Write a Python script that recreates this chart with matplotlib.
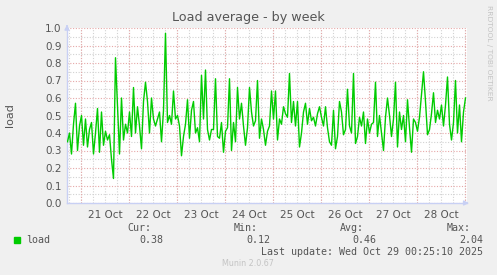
import matplotlib
matplotlib.use("Agg")
import matplotlib.pyplot as plt
import matplotlib.dates as mdates
from matplotlib.patches import Rectangle
from datetime import datetime, timedelta

# hourly load values
START = datetime(2025, 10, 20, 17, 0)
load = [
    0.35, 0.40, 0.28, 0.45, 0.57, 0.30, 0.44, 0.50, 0.33, 0.48,
    0.32, 0.42, 0.46, 0.28, 0.40, 0.54, 0.29, 0.52, 0.33, 0.41,
    0.36, 0.39, 0.25, 0.14, 0.83, 0.55, 0.28, 0.60, 0.36, 0.45,
    0.40, 0.52, 0.38, 0.66, 0.40, 0.55, 0.44, 0.31, 0.58, 0.69,
    0.58, 0.40, 0.60, 0.48, 0.44, 0.48, 0.52, 0.35, 0.53, 0.97,
    0.46, 0.50, 0.45, 0.64, 0.48, 0.50, 0.44, 0.27, 0.38, 0.45,
    0.59, 0.37, 0.53, 0.58, 0.40, 0.43, 0.35, 0.73, 0.48, 0.76,
    0.42, 0.36, 0.42, 0.42, 0.71, 0.38, 0.37, 0.46, 0.29, 0.41,
    0.43, 0.71, 0.30, 0.46, 0.35, 0.66, 0.48, 0.57, 0.44, 0.33,
    0.43, 0.66, 0.52, 0.44, 0.47, 0.70, 0.37, 0.48, 0.42, 0.33,
    0.41, 0.44, 0.64, 0.48, 0.64, 0.36, 0.48, 0.45, 0.55, 0.51,
    0.49, 0.74, 0.46, 0.58, 0.44, 0.58, 0.32, 0.40, 0.52, 0.57,
    0.45, 0.54, 0.47, 0.49, 0.44, 0.51, 0.55, 0.49, 0.44, 0.55,
    0.43, 0.35, 0.33, 0.53, 0.31, 0.38, 0.58, 0.52, 0.39, 0.42,
    0.65, 0.44, 0.40, 0.74, 0.34, 0.38, 0.49, 0.44, 0.52, 0.34,
    0.48, 0.40, 0.45, 0.46, 0.69, 0.38, 0.50, 0.40, 0.30, 0.49,
    0.60, 0.50, 0.38, 0.48, 0.69, 0.32, 0.52, 0.42, 0.50, 0.35,
    0.59, 0.43, 0.29, 0.48, 0.46, 0.41, 0.49, 0.62, 0.75, 0.58,
    0.39, 0.42, 0.51, 0.63, 0.46, 0.53, 0.48, 0.56, 0.44, 0.56,
    0.72, 0.45, 0.36, 0.46, 0.70, 0.40, 0.56, 0.35, 0.52, 0.60,
]
times = [START + timedelta(hours=i) for i in range(len(load))]

X_FROM = datetime(2025, 10, 20, 16, 45)
X_TO = datetime(2025, 10, 29, 0, 45)

legend_heads = ["Cur:", "Min:", "Avg:", "Max:"]
legend_vals = ["0.38", "0.12", "0.46", "2.04"]

W, H = 497, 275
TXT = "#555555"
MAJ = "#e6a8a8"
MIN = "#d2d2d2"
AXC = "#c8d0f4"

fig = plt.figure(figsize=(W / 100, H / 100), dpi=100, facecolor="#f0f0f0")
ax = fig.add_axes([67 / W, (H - 203) / H, 400 / W, 175 / H])
ax.set_facecolor("white")

ax.plot(times, load, color="#00cc00", lw=1.0, zorder=3)

ax.set_xlim(X_FROM, X_TO)
ax.set_ylim(0, 1.0)

# y grid
ax.set_yticks([i / 10 for i in range(11)])
ax.set_yticks([i / 20 for i in range(1, 20, 2)], minor=True)
ax.yaxis.set_major_formatter(matplotlib.ticker.FormatStrFormatter("%.1f"))
ax.grid(True, axis="y", which="major", color=MAJ, ls=(0, (1, 1.5)), lw=0.8, zorder=1)
ax.grid(True, axis="y", which="minor", color=MIN, ls=(0, (1, 1.5)), lw=0.8, zorder=1)

# x grid: labels at noon, gray every 6h, red at midnight
ax.xaxis.set_major_locator(mdates.HourLocator(byhour=[12]))
ax.xaxis.set_major_formatter(mdates.DateFormatter("%d %b"))
ax.xaxis.set_minor_locator(mdates.HourLocator(byhour=[0, 6, 18]))
ax.grid(True, axis="x", which="both", color=MIN, ls=(0, (1, 1.5)), lw=0.8, zorder=1)
day = datetime(2025, 10, 21)
while day <= X_TO:
    ax.axvline(day, color=MAJ, ls=(0, (1, 1.5)), lw=0.8, zorder=2)
    day += timedelta(days=1)

ax.tick_params(axis="both", which="both", length=0, labelsize=7.5, colors=TXT, pad=4)
ax.tick_params(axis="x", pad=5)

for s in ["top", "right"]:
    ax.spines[s].set_visible(False)
for s in ["left", "bottom"]:
    ax.spines[s].set_color(AXC)
    ax.spines[s].set_linewidth(1)

# axis arrows
ax.annotate("", xy=(1.012, 0), xytext=(0.99, 0), xycoords="axes fraction",
            arrowprops=dict(arrowstyle="-|>", color=AXC, lw=1, mutation_scale=7),
            annotation_clip=False)
ax.annotate("", xy=(0, 1.035), xytext=(0, 0.99), xycoords="axes fraction",
            arrowprops=dict(arrowstyle="-|>", color=AXC, lw=1, mutation_scale=7),
            annotation_clip=False)

fig.text(248.5 / W, 1 - 18 / H, "Load average - by week", ha="center", va="center",
         fontsize=9.2, color=TXT)
fig.text(10 / W, 1 - 115 / H, "load", rotation=90, ha="center", va="center",
         fontsize=8, color=TXT)
fig.text(489 / W, 1 - 53 / H, "RRDTOOL / TOBI OETIKER", rotation=270, ha="center",
         va="center", fontsize=5.4, color="#c4c4c4")

# legend
mono = "DejaVu Sans Mono"
fig.patches.append(Rectangle((14 / W, 1 - 243 / H), 6 / W, 6 / H,
                             transform=fig.transFigure, color="#00cc00"))
fig.text(26 / W, 1 - 240 / H, "load", ha="left", va="center", fontsize=7.2,
         family=mono, color=TXT)
head_x = [151, 258, 364, 471]
val_x = [163, 270, 376, 483]
for hx, t in zip(head_x, legend_heads):
    fig.text(hx / W, 1 - 228 / H, t, ha="right", va="center", fontsize=7.2,
             family=mono, color=TXT)
for vx, t in zip(val_x, legend_vals):
    fig.text(vx / W, 1 - 240 / H, t, ha="right", va="center", fontsize=7.2,
             family=mono, color=TXT)
fig.text(483 / W, 1 - 252 / H, "Last update: Wed Oct 29 00:25:10 2025", ha="right",
         va="center", fontsize=7.2, family=mono, color=TXT)
fig.text(248 / W, 1 - 264 / H, "Munin 2.0.67", ha="center", va="center", fontsize=5.8,
         color="#c4c4c4")

fig.savefig("out.png", dpi=100, facecolor=fig.get_facecolor())
